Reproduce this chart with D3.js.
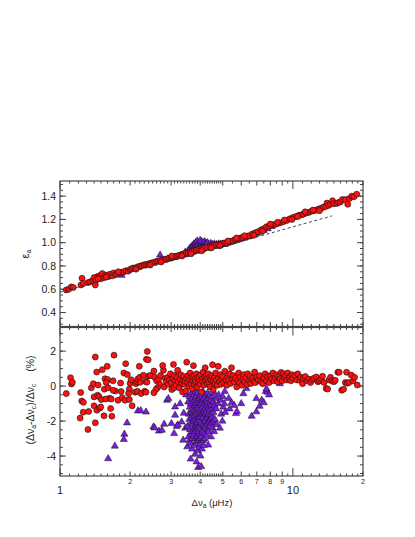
<!DOCTYPE html>
<html>
<head>
<meta charset="utf-8">
<script src="https://cdn.jsdelivr.net/npm/d3@7"></script>
<style>
  body { margin: 0; background: #fff; }
  svg { display: block; font-family: "Liberation Sans", Arial, sans-serif; }
</style>
</head>
<body>
<script>
// upper panel: epsilon_a against delta nu_a  [dnu, eps]
const redTop = [
  [1.064,0.594],[1.09,0.60],[1.118,0.62],[1.14,0.615],[1.23,0.637],[1.243,0.695],[1.26,0.65],[1.32,0.657],
  [1.35,0.665],[1.385,0.674],[1.40,0.70],[1.418,0.637],[1.43,0.68],[1.45,0.71],[1.47,0.706],[1.49,0.72],
  [1.50,0.69],[1.52,0.735],[1.55,0.70],[1.57,0.72],[1.60,0.723],[1.62,0.71],[1.65,0.73],[1.68,0.715],
  [1.70,0.74],[1.73,0.725],[1.76,0.735],[1.81,0.74],[1.84,0.745],[1.88,0.75],[1.92,0.76],[1.96,0.755],
  [2.00,0.77],[2.03,0.775],[2.06,0.783],[2.10,0.78],[2.14,0.79],[2.18,0.795],[2.22,0.80],[2.26,0.805],
  [2.30,0.81],[2.34,0.812],[2.38,0.815],[2.42,0.82],[2.46,0.825],[2.50,0.828],[2.55,0.832],[2.60,0.84],
  [2.65,0.842],[2.70,0.848],[2.75,0.85],[2.80,0.855],[2.85,0.858],[2.90,0.862],[2.95,0.868],[3.00,0.87],
  [3.06,0.875],[3.12,0.88],[3.18,0.885],[3.24,0.89],[3.30,0.895],[3.36,0.90],[3.42,0.905],[3.48,0.91],
  [3.55,0.912],[3.62,0.918],[3.70,0.925],[3.78,0.93],[3.86,0.935],[3.94,0.94],[4.02,0.945],[4.10,0.95],
  [4.20,0.955],[4.30,0.96],[4.40,0.965],[4.50,0.97],[4.60,0.975],[4.70,0.98],[4.80,0.985],[4.90,0.99],
  [5.00,0.993],[5.10,0.997],[5.20,1.00],[5.35,1.01],[5.50,1.015],[5.65,1.025],[5.80,1.03],[5.95,1.04],
  [6.10,1.045],[6.30,1.05],[6.50,1.06],[6.70,1.075],[6.90,1.085],[7.07,1.094],[7.30,1.11],[7.50,1.12],
  [7.70,1.137],[7.90,1.14],[8.10,1.15],[8.30,1.155],[8.50,1.16],[8.80,1.17],[9.10,1.18],[9.40,1.19],
  [9.70,1.205],[10.0,1.217],[10.3,1.225],[10.6,1.235],[10.9,1.24],[11.1,1.245],[11.4,1.255],[11.7,1.26],
  [12.0,1.27],[12.3,1.275],[12.6,1.28],[12.9,1.29],[13.2,1.295],[13.5,1.305],[13.8,1.31],[14.0,1.34],
  [14.2,1.32],[14.5,1.33],[14.8,1.36],[15.0,1.335],[15.4,1.337],[15.7,1.345],[16.0,1.35],[16.3,1.37],
  [16.8,1.37],[17.2,1.33],[17.5,1.38],[17.9,1.40],[18.3,1.395],[18.8,1.417],
  [1.46,0.69],[1.58,0.705],[1.78,0.75],[2.12,0.772],[2.44,0.808],[2.72,0.835],[3.02,0.885],[3.34,0.885],
  [3.66,0.905],[4.06,0.93],[4.46,0.955],[4.86,0.975],[5.26,1.015],[5.72,1.04],[6.2,1.06],[6.8,1.065],
  [7.4,1.10],[8.0,1.16],[8.6,1.175],[9.2,1.195],[9.9,1.20],[10.5,1.225],[11.3,1.265],[12.2,1.28],[13.0,1.275]
];
const purpleTop = [
  [1.84,0.72],[2.69,0.894],[2.90,0.86],[3.10,0.875],[3.30,0.89],[3.40,0.895],[3.45,0.92],[3.50,0.90],
  [3.55,0.93],[3.58,0.91],[3.60,0.95],[3.62,0.92],[3.65,0.96],[3.68,0.935],[3.70,0.975],[3.72,0.95],
  [3.74,0.92],[3.76,0.99],[3.78,0.96],[3.80,0.94],[3.82,1.00],[3.84,0.975],[3.86,0.95],[3.88,1.015],
  [3.90,0.985],[3.92,0.96],[3.94,0.935],[3.96,1.005],[3.98,0.975],[4.00,1.02],[4.02,0.955],[4.04,0.99],
  [4.06,1.01],[4.08,0.97],[4.10,0.945],[4.12,1.00],[4.14,0.98],[4.16,0.96],[4.18,1.01],[4.20,0.99],
  [4.22,0.965],[4.25,0.995],[4.28,0.975],[4.30,1.00],[4.33,0.96],[4.36,0.985],[4.40,0.97],[4.44,0.995],
  [4.48,0.975],[4.52,0.985],[4.56,0.97],[4.60,0.99],[4.65,0.975],[4.70,0.985],[4.75,0.97],[4.80,0.99],
  [4.85,0.975],[4.90,0.985],[5.00,0.99],[5.10,0.985],[5.20,0.995],[5.30,1.00],[5.40,1.005],[5.50,1.01],
  [5.60,1.015],[5.70,1.02],[5.80,1.025],[5.90,1.03],[6.00,1.035],[6.20,1.04],[6.40,1.05],[6.60,1.06],
  [6.80,1.07],[7.00,1.08],[7.20,1.09],[7.50,1.105],[7.80,1.12],[8.10,1.14]
];
// dashed reference line [dnu, eps]
const dashedLine = [[1.0,0.575],[14.7,1.23]];

// lower panel: relative difference in percent  [dnu, dev]
const redBot = [
  [1.064,-0.43],[1.11,0.48],[1.12,0.12],[1.13,0.22],[1.227,-0.37],[1.24,-0.85],[1.26,-0.93],[1.22,-1.83],
  [1.258,-1.49],[1.318,-2.48],[1.327,-1.45],[1.363,-0.10],[1.39,0.14],[1.40,-1.13],[1.418,-2.10],[1.418,1.66],
  [1.40,-0.62],[1.437,0.80],[1.456,0.06],[1.45,-0.52],[1.47,-0.60],[1.44,-1.38],[1.48,-1.26],[1.495,-1.19],
  [1.519,0.94],[1.595,1.13],[1.56,0.42],[1.60,0.38],[1.58,0.20],[1.55,-0.18],[1.61,-0.10],[1.63,-0.70],
  [1.505,-0.77],[1.57,-0.74],[1.66,-0.74],[1.65,-1.28],[1.67,-1.72],[1.545,-1.70],[1.706,1.77],[1.727,-0.28],
  [1.69,-0.24],[1.69,0.30],[1.775,-0.81],[1.82,0.18],[1.83,-0.31],[1.85,-0.66],[1.90,-0.81],[1.915,1.28],
  [1.88,0.75],[1.946,0.66],[2.00,0.16],[2.02,0.36],[1.985,-0.17],[1.97,-0.43],[1.985,-0.77],[2.04,-1.13],
  [2.12,0.14],[2.14,0.26],[2.16,0.40],[2.10,-0.35],[2.15,-0.30],[2.19,1.13],[2.20,0.50],[2.21,0.22],
  [2.23,-0.43],[2.28,0.62],[2.35,1.53],[2.39,1.50],[2.37,1.98],[2.33,0.27],[2.36,0.22],[2.31,-0.30],
  [2.34,-0.35],[2.41,0.58],[2.44,0.60],[2.53,0.86],[2.55,0.50],[2.60,0.30],[2.65,0.40],[2.70,0.60],
  [2.68,0.10],[2.62,-0.10],[2.58,-0.20],[2.53,-0.38],[2.78,0.90],[2.83,0.44],[2.86,0.25],[2.80,-0.05],
  [2.76,1.18],
  [2.90,0.50],[2.92,0.10],[2.95,0.35],[2.98,0.70],[3.00,0.20],[3.02,-0.20],[3.05,0.45],[3.07,1.24],
  [3.09,-0.09],[3.10,0.60],[3.12,0.30],[3.15,0.05],[3.18,0.50],[3.20,0.90],[3.22,0.25],[3.25,-0.10],
  [3.28,0.40],[3.30,0.65],[3.33,0.15],[3.36,-0.34],[3.38,0.35],[3.40,0.55],[3.42,0.10],[3.45,0.30],
  [3.47,-0.28],[3.50,1.37],[3.50,0.45],[3.53,0.20],[3.55,0.60],[3.58,0.00],[3.60,0.35],[3.62,0.75],
  [3.65,0.15],[3.68,0.50],[3.70,-0.15],[3.72,0.30],[3.74,1.17],[3.75,0.60],[3.78,0.10],[3.80,0.40],
  [3.82,0.25],[3.85,0.70],[3.88,-0.05],[3.90,0.45],[3.92,0.20],[3.95,0.55],[3.98,0.30],
  [4.00,0.10],[4.02,0.65],[4.05,-0.34],[4.08,0.40],[4.10,0.25],[4.12,0.80],[4.15,0.05],[4.18,0.50],
  [4.20,1.05],[4.22,0.30],[4.25,0.60],[4.28,0.15],[4.30,0.40],[4.33,0.70],[4.36,0.20],[4.40,0.50],
  [4.42,-0.05],[4.45,0.35],[4.48,0.60],[4.52,1.22],[4.55,-0.20],[4.55,0.30],[4.60,0.50],[4.63,0.15],
  [4.66,0.75],[4.70,0.35],[4.74,0.05],[4.78,1.13],[4.80,0.45],[4.85,0.25],[4.88,0.65],[4.92,0.10],
  [4.95,0.40],[5.00,0.55],[5.05,0.20],[5.10,0.85],[5.15,0.35],
  [5.20,0.05],[5.25,0.50],[5.30,0.30],[5.35,0.70],[5.40,0.15],[5.45,1.05],[5.50,0.40],[5.55,0.60],
  [5.60,0.25],[5.66,0.45],[5.74,-0.05],[5.80,0.35],[5.85,0.75],[5.90,0.20],[5.95,0.50],[6.03,0.05],
  [6.10,0.40],[6.15,0.65],[6.20,0.25],[6.30,0.50],[6.35,0.10],[6.40,0.70],[6.50,0.30],[6.55,0.55],
  [6.60,0.15],[6.70,0.45],[6.80,0.30],[6.85,0.80],[6.90,0.20],[7.00,0.50],[7.10,0.35],[7.20,0.60],
  [7.30,0.25],[7.42,0.14],[7.50,0.45],
  [7.60,0.70],[7.70,0.30],[7.80,0.55],[7.90,0.20],[8.00,0.60],[8.10,0.40],[8.20,0.75],[8.30,0.30],
  [8.40,0.50],[8.50,0.65],[8.60,0.25],[8.70,0.55],[8.80,0.40],[8.90,0.78],[9.00,0.30],[9.10,0.71],
  [9.20,0.50],[9.30,0.60],[9.40,0.35],[9.50,0.75],[9.60,0.45],[9.70,0.55],[9.80,0.30],[9.90,0.65],
  [10.0,0.45],[10.2,0.60],[10.4,0.35],[10.5,0.70],[10.7,0.33],[10.8,0.50],[11.0,0.14],[11.1,0.45],
  [11.3,0.55],[11.5,0.30],[11.7,0.40],[11.9,0.20],[12.1,0.35],[12.3,0.45],[12.6,0.52],[12.8,0.25],
  [13.0,0.30],[13.2,0.40],
  [13.4,0.56],[13.6,0.20],[13.9,-0.14],[14.1,-0.17],[14.3,0.35],[14.5,0.50],[14.7,0.30],[15.0,0.25],
  [15.2,0.33],[15.6,0.79],[15.8,0.79],[16.2,-0.24],[16.5,-0.18],[16.8,0.20],[17.0,0.79],[17.1,0.16],
  [17.4,0.20],[17.8,0.63],[18.1,0.29],[18.4,0.50],[18.9,0.06]
];
const purpleBot = [
  [1.61,-4.15],[1.72,-3.43],[1.89,-2.75],[1.88,-3.05],[1.94,-2.10],[2.16,-1.42],[2.22,-1.40],[2.34,-1.48],
  [2.52,-2.33],[2.55,-2.39],[2.66,-2.57],[2.74,-2.52],[2.80,-2.18],[2.88,-0.81],[2.92,-0.71],[3.01,-2.14],
  [3.09,-2.71],[3.12,-1.19],[3.12,-1.66],[3.17,-2.30],[3.21,-2.22],[3.28,-1.00],[3.33,-2.05],[3.38,-3.09],
  [3.40,-1.55],[3.45,-2.40],[3.48,-0.50],[3.52,-3.47],[3.64,-4.17],[3.86,-4.33],[3.92,-4.65],[4.04,-4.60],
  [4.33,-3.37],
  [3.55,-0.90],[3.57,-1.60],[3.53,-2.30],[3.56,-2.90],[3.60,-0.60],[3.61,-1.20],[3.59,-1.90],[3.62,-2.50],
  [3.60,-3.10],[3.66,-0.40],[3.64,-1.00],[3.67,-1.50],[3.65,-2.10],[3.66,-2.70],[3.63,-3.30],[3.70,-0.70],
  [3.71,-1.30],[3.69,-1.80],[3.72,-2.20],[3.70,-2.60],[3.71,-3.00],[3.69,-3.60],[3.76,-0.50],[3.74,-0.90],
  [3.75,-1.40],[3.77,-1.70],[3.74,-2.00],[3.76,-2.40],[3.75,-2.80],[3.77,-3.40],[3.80,-0.30],[3.81,-0.80],
  [3.79,-1.10],[3.82,-1.50],[3.80,-1.90],[3.81,-2.30],[3.79,-2.60],[3.82,-3.00],[3.80,-3.90],[3.85,-0.60],
  [3.86,-1.00],[3.84,-1.30],[3.87,-1.60],[3.85,-2.00],[3.86,-2.20],[3.84,-2.50],[3.87,-2.90],[3.85,-3.20],
  [3.90,-0.40],[3.91,-0.80],[3.89,-1.20],[3.92,-1.40],[3.90,-1.80],[3.91,-2.10],[3.89,-2.40],[3.92,-2.70],
  [3.90,-3.10],[3.91,-3.70],[3.95,-0.70],[3.96,-1.00],[3.94,-1.30],[3.97,-1.70],[3.95,-1.90],[3.96,-2.30],
  [3.94,-2.60],[3.97,-3.00],[3.95,-3.50],[4.00,-0.50],[4.01,-0.90],[3.99,-1.10],[4.02,-1.50],[4.00,-1.80],
  [4.01,-2.00],[3.99,-2.40],[4.02,-2.80],[4.00,-3.30],[4.01,-4.00],[4.05,-0.60],[4.06,-1.00],[4.04,-1.30],
  [4.07,-1.60],[4.05,-2.10],[4.06,-2.50],[4.04,-2.90],[4.07,-3.60],[4.10,-0.30],[4.11,-0.80],[4.09,-1.20],
  [4.12,-1.50],[4.10,-1.80],[4.11,-2.20],[4.09,-2.60],[4.12,-3.10],[4.15,-0.70],[4.16,-1.00],[4.14,-1.40],
  [4.17,-1.90],[4.15,-2.30],[4.16,-2.70],[4.14,-3.40],[4.20,-0.50],[4.21,-0.90],[4.19,-1.30],[4.22,-1.60],
  [4.20,-2.00],[4.21,-2.40],[4.19,-3.00],[4.25,-0.80],[4.26,-1.10],[4.24,-1.50],[4.27,-1.80],[4.25,-2.20],
  [4.26,-2.80],[4.30,-0.40],[4.31,-0.90],[4.29,-1.30],[4.32,-1.70],[4.30,-2.10],[4.31,-2.50],[4.36,-0.70],
  [4.35,-1.20],[4.34,-1.60],[4.37,-2.00],[4.35,-2.60],[4.40,-0.50],[4.41,-1.00],[4.39,-1.40],[4.42,-1.90],
  [4.40,-2.30],[4.45,-0.80],[4.46,-1.10],[4.44,-1.60],[4.47,-2.10],[4.45,-2.90],[4.50,-0.60],[4.51,-1.30],
  [4.49,-1.80],[4.52,-2.40],[4.55,-0.90],[4.56,-1.50],[4.54,-2.00],[4.60,-0.40],[4.61,-1.10],[4.63,-1.90],
  [4.59,-2.60],[4.70,-0.70],[4.68,-1.30],[4.71,-2.20],[4.80,-0.50],[4.78,-1.00],[4.86,-2.40],[4.90,-0.80],
  [4.92,-1.60],[5.00,-0.60],[5.02,-1.20],[4.98,-2.00],[5.10,-0.30],[5.08,-1.00],[5.12,-1.50],
  [5.30,-0.70],[5.35,-1.30],[5.45,-0.95],[5.60,-1.10],[5.70,-1.57],[5.75,-1.45],[6.00,-1.00],[6.13,-0.43],
  [6.32,-0.14],[6.65,-1.72],[6.97,-0.71],[6.97,-1.47],[7.20,-1.15],[7.35,-0.80],[7.50,-0.95],[7.65,-0.30],
  [7.80,-0.35],[7.90,-0.50],[7.70,-0.15],[8.80,0.14]
];

const xMajor = [1, 10];
const xMid = [2, 3, 4, 5, 6, 7, 8, 9, 20];
const yTopTicks = [0.4, 0.6, 0.8, 1.0, 1.2, 1.4];
const yBotTicks = [-4, -2, 0, 2];

const W = 415, H = 537;
const L = 60, R = 363;
const topY0 = 181, topY1 = 326.5, botY0 = 327.5, botY1 = 476;

const svg = d3.select('body').append('svg').attr('width', W).attr('height', H);

const x = d3.scaleLog().domain([1, 20]).range([L, R]);
const yTop = d3.scaleLinear().domain([0.28, 1.53]).range([topY1, topY0]);
const yBot = d3.scaleLinear().domain([-5.14, 3.35]).range([botY1, botY0]);

// minor log ticks: fine below 5, coarser above
const xMinor = d3.range(11, 50).map(v => v / 10).filter(v => v % 1 !== 0)
  .concat([5.5, 6.5, 7.5, 8.5, 9.5])
  .concat(d3.range(11, 20));

const axisColor = '#444';

function panel(yScale, y0, y1, majors, minorStep, id) {
  const g = svg.append('g');
  g.append('rect').attr('x', L).attr('y', y0).attr('width', R - L).attr('height', y1 - y0)
    .attr('fill', 'none').attr('stroke', axisColor).attr('stroke-width', 1.2);

  // y ticks, both sides
  const d = yScale.domain();
  const minors = d3.range(Math.ceil(d[0] / minorStep) * minorStep, d[1], minorStep);
  minors.forEach(v => {
    const yy = yScale(v);
    g.append('line').attr('x1', L).attr('x2', L + 3).attr('y1', yy).attr('y2', yy).attr('stroke', axisColor);
    g.append('line').attr('x1', R).attr('x2', R - 3).attr('y1', yy).attr('y2', yy).attr('stroke', axisColor);
  });
  majors.forEach(v => {
    const yy = yScale(v);
    g.append('line').attr('x1', L).attr('x2', L + 6).attr('y1', yy).attr('y2', yy).attr('stroke', axisColor);
    g.append('line').attr('x1', R).attr('x2', R - 6).attr('y1', yy).attr('y2', yy).attr('stroke', axisColor);
    g.append('text').attr('x', L - 4).attr('y', yy).attr('dy', '0.36em')
      .attr('text-anchor', 'end').attr('font-size', 10.5).attr('fill', '#222')
      .text(yScale === yTop ? d3.format('.1f')(v) : v);
  });

  // x ticks, bottom and top
  [[y1, -1], [y0, 1]].forEach(([yy, dir]) => {
    xMinor.forEach(v => {
      g.append('line').attr('x1', x(v)).attr('x2', x(v)).attr('y1', yy).attr('y2', yy + dir * 2.5).attr('stroke', axisColor);
    });
    xMid.forEach(v => {
      g.append('line').attr('x1', x(v)).attr('x2', x(v)).attr('y1', yy).attr('y2', yy + dir * 4.5).attr('stroke', axisColor);
    });
    xMajor.forEach(v => {
      g.append('line').attr('x1', x(v)).attr('x2', x(v)).attr('y1', yy).attr('y2', yy + dir * 8).attr('stroke', axisColor);
    });
  });

  svg.append('clipPath').attr('id', id).append('rect')
    .attr('x', L).attr('y', y0).attr('width', R - L).attr('height', y1 - y0);
  return svg.append('g').attr('clip-path', `url(#${id})`);
}

const tri = d3.symbol().type(d3.symbolTriangle).size(22);

function drawPoints(g, yScale, purple, red) {
  g.selectAll('path.tri').data(purple).enter().append('path')
    .attr('class', 'tri')
    .attr('d', tri)
    .attr('transform', d => `translate(${x(d[0])},${yScale(d[1])})`)
    .attr('fill', '#7a1fe0').attr('stroke', '#111').attr('stroke-width', 0.5);
  g.selectAll('circle').data(red).enter().append('circle')
    .attr('cx', d => x(d[0])).attr('cy', d => yScale(d[1])).attr('r', 3)
    .attr('fill', '#ff1010').attr('stroke', '#111').attr('stroke-width', 0.6);
}

const gTop = panel(yTop, topY0, topY1, yTopTicks, 0.05, 'clipTop');
const gBot = panel(yBot, botY0, botY1, yBotTicks, 0.5, 'clipBot');

drawPoints(gTop, yTop, purpleTop, redTop);

gTop.append('path').datum(dashedLine)
  .attr('d', d3.line().x(d => x(d[0])).y(d => yTop(d[1])))
  .attr('fill', 'none').attr('stroke', '#333').attr('stroke-width', 0.9).attr('stroke-dasharray', '3,2.5');

drawPoints(gBot, yBot, purpleBot, redBot);

// x tick labels
xMid.forEach(v => {
  svg.append('text').attr('x', x(v)).attr('y', 484).attr('text-anchor', 'middle')
    .attr('font-size', 7).attr('fill', '#222').text(v === 20 ? '2' : v);
});
xMajor.forEach(v => {
  svg.append('text').attr('x', x(v)).attr('y', 494).attr('text-anchor', 'middle')
    .attr('font-size', 11).attr('fill', '#222').text(v);
});

// axis titles
const xt = svg.append('text').attr('x', 212).attr('y', 506).attr('text-anchor', 'middle')
  .attr('font-size', 9.5).attr('fill', '#222');
xt.append('tspan').text('\u0394\u03bd');
xt.append('tspan').attr('font-size', 6.5).attr('dy', 2).text('a');
xt.append('tspan').attr('dy', -2).text(' (\u03bcHz)');

const yt1 = svg.append('text').attr('transform', 'translate(29,254) rotate(-90)')
  .attr('text-anchor', 'middle').attr('font-size', 11).attr('fill', '#222');
yt1.append('tspan').text('\u03b5');
yt1.append('tspan').attr('font-size', 7).attr('dy', 2).text('a');

const yt2 = svg.append('text').attr('transform', 'translate(34,400) rotate(-90)')
  .attr('text-anchor', 'middle').attr('font-size', 10.5).attr('fill', '#222');
yt2.append('tspan').text('(\u0394\u03bd');
yt2.append('tspan').attr('font-size', 7).attr('dy', 2).text('a');
yt2.append('tspan').attr('dy', -2).text('-\u0394\u03bd');
yt2.append('tspan').attr('font-size', 7).attr('dy', 2).text('c');
yt2.append('tspan').attr('dy', -2).text(')/\u0394\u03bd');
yt2.append('tspan').attr('font-size', 7).attr('dy', 2).text('c');
yt2.append('tspan').attr('dy', -2).attr('xml:space', 'preserve').text('    (%)');
</script>
</body>
</html>
